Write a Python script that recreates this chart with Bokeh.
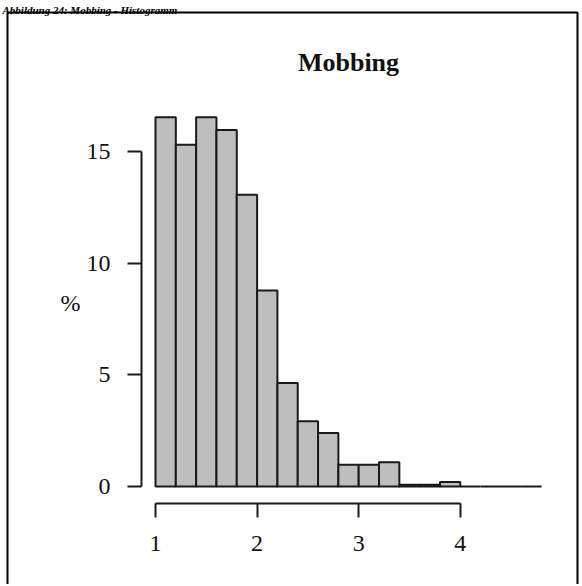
from bokeh.plotting import figure
from bokeh.models import (LinearAxis, FixedTicker, BoxAnnotation, Label, Range1d,
                          ColumnDataSource)
from bokeh.embed import file_html
from bokeh.resources import INLINE

# ---- data ----
bin_left = [1.0, 1.2, 1.4, 1.6, 1.8, 2.0, 2.2, 2.4, 2.6, 2.8,
            3.0, 3.2, 3.4, 3.6, 3.8, 4.0, 4.2, 4.4, 4.6]
bin_right = [1.2, 1.4, 1.6, 1.8, 2.0, 2.2, 2.4, 2.6, 2.8, 3.0,
             3.2, 3.4, 3.6, 3.8, 4.0, 4.2, 4.4, 4.6, 4.8]
percent = [16.54, 15.30, 16.54, 15.97, 13.06, 8.78, 4.64, 2.92, 2.40, 0.97,
           0.97, 1.09, 0.08, 0.08, 0.20, 0.0, 0.0, 0.0, 0.0]
x_ticks = [1, 2, 3, 4]
y_ticks = [0, 5, 10, 15]
title_text = "Mobbing"
y_label = "%"
caption_text = "Abbildung 24: Mobbing - Histogramm"

# ---- layout constants (pixels on the canvas) ----
W, H = 580, 584
X1_PX = 155.0      # canvas x of value 1
Y0_PX = 486.0      # canvas y (from top) of 0 %
PX_PER_X = 101.6
PX_PER_Y = 22.33
FONT = "Liberation Serif"
INK = "#1a1a1a"


def px_x(px):
    return 1 + (px - X1_PX) / PX_PER_X


def px_y(py):
    return (Y0_PX - py) / PX_PER_Y


p = figure(width=W, height=H, output_backend="svg", toolbar_location=None,
           x_axis_type=None, y_axis_type=None, tools="",
           x_range=Range1d(px_x(0), px_x(W)), y_range=Range1d(px_y(H), px_y(0)),
           min_border=0)
p.outline_line_color = None
p.background_fill_color = "white"
p.border_fill_color = "white"

src = ColumnDataSource(dict(left=bin_left, right=bin_right, top=percent,
                            bottom=[0.0] * len(percent)))
p.quad(left="left", right="right", top="top", bottom="bottom", source=src,
       fill_color="#bebebe", line_color=INK, line_width=2)


def style_axis(ax):
    ax.major_tick_out = 14
    ax.major_tick_in = 0
    ax.minor_tick_out = 0
    ax.minor_tick_in = 0
    ax.axis_line_width = 2
    ax.axis_line_color = INK
    ax.major_tick_line_width = 2
    ax.major_tick_line_color = INK
    ax.major_label_text_font = FONT
    ax.major_label_text_font_size = "24px"
    ax.major_label_text_color = "#111111"


yaxis = LinearAxis(fixed_location=px_x(141), bounds=(0, 15),
                   ticker=FixedTicker(ticks=y_ticks))
style_axis(yaxis)
yaxis.major_label_standoff = 17
yaxis.major_label_orientation = "horizontal"
p.add_layout(yaxis, "left")

xaxis = LinearAxis(fixed_location=px_y(503), bounds=(1, 4),
                   ticker=FixedTicker(ticks=x_ticks))
style_axis(xaxis)
xaxis.major_label_standoff = 18
p.add_layout(xaxis, "below")

p.add_layout(Label(x=px_x(348), y=px_y(62), text=title_text, text_font=FONT,
                   text_font_style="bold", text_font_size="26px",
                   text_align="center", text_baseline="middle", text_color="#111111"))
p.add_layout(Label(x=px_x(70), y=px_y(302), text=y_label, text_font=FONT,
                   text_font_size="24px", text_align="center",
                   text_baseline="middle", text_color="#111111"))

# document caption above the chart box (kept small so it fits above the box)
p.add_layout(Label(x=px_x(2), y=px_y(9), text=caption_text, text_font=FONT,
                   text_font_style="bold italic", text_font_size="11px",
                   text_align="left", text_baseline="alphabetic",
                   text_color="#000000"))

# surrounding frame (its bottom edge lies below the visible area)
p.add_layout(BoxAnnotation(left=px_x(7), right=px_x(577), top=px_y(12),
                           bottom=px_y(H + 20), fill_alpha=0, fill_color=None,
                           line_color="black", line_alpha=1.0, line_width=2))

open("out.html", "w").write(file_html(p, INLINE))
